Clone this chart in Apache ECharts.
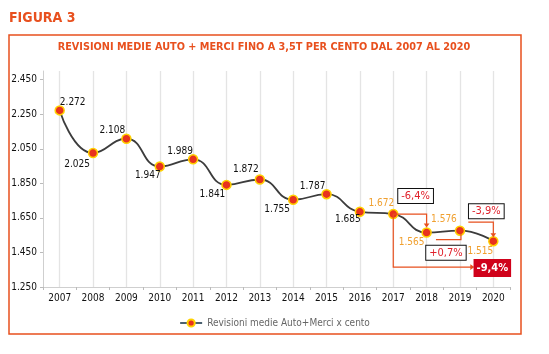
<!DOCTYPE html>
<html>
<head>
<meta charset="utf-8">
<script src="https://cdn.jsdelivr.net/npm/echarts@6/dist/echarts.min.js"></script>
<style>
  html, body { margin: 0; padding: 0; background: #fff; }
  #chart { width: 549px; height: 354px; }
</style>
</head>
<body>
<div id="chart"></div>
<script>
// data
const years = ['2007', '2008', '2009', '2010', '2011', '2012', '2013', '2014', '2015', '2016', '2017', '2018', '2019', '2020'];
const values = [2272, 2025, 2108, 1947, 1989, 1841, 1872, 1755, 1787, 1685, 1672, 1565, 1576, 1515];
const yTicks = [1250, 1450, 1650, 1850, 2050, 2250, 2450];
const changeLabels = ['-6,4%', '+0,7%', '-3,9%', '-9,4%'];
const seriesName = 'Revisioni medie Auto+Merci x cento';

const FONT = '"Liberation Sans Narrow", "DejaVu Sans Condensed", "Liberation Sans", sans-serif';
const ORANGE = '#e8501e';
const RED = '#e0202a';

// label offsets from each point (px)
const labelOffsets = [[13, -8], [-16, 11], [-14, -8], [-12, 9], [-13, -8], [-14, 10], [-14, -10],
  [-16, 10], [-14, -8], [-12, 8], [-12, -11], [-15, 10], [-16, -11], [-13, 10]];

const fmt = v => String(v).replace(/(\d)(\d{3})$/, '$1.$2');

const chart = echarts.init(document.getElementById('chart'), null, { renderer: 'canvas' });

const option = {
  animation: false,
  textStyle: { fontFamily: FONT },
  grid: { left: 43, right: 39, top: 71, bottom: 67 },
  legend: {
    bottom: 21,
    left: 'center',
    itemWidth: 22,
    itemHeight: 9,
    lineStyle: { color: '#4b6170' },
    textStyle: { fontFamily: FONT, fontSize: 10, color: '#666' },
    data: [seriesName]
  },
  xAxis: {
    type: 'category',
    data: years,
    boundaryGap: true,
    axisLine: { lineStyle: { color: '#cfcfcf' } },
    axisTick: { show: true, length: 3, lineStyle: { color: '#bbb' } },
    axisLabel: { color: '#111', fontSize: 10, fontFamily: FONT, margin: 6 },
    splitLine: { show: true, alignWithLabel: true, lineStyle: { color: '#e4e4e4', width: 1.3 } }
  },
  yAxis: {
    type: 'value',
    min: 1250,
    max: 2500,
    interval: 200,
    axisLine: { show: true, lineStyle: { color: '#cfcfcf' } },
    axisTick: { show: true, length: 3, lineStyle: { color: '#bbb' } },
    splitLine: { show: false },
    axisLabel: {
      color: '#111', fontSize: 10, fontFamily: FONT, margin: 6,
      showMaxLabel: false,
      formatter: v => yTicks.indexOf(v) >= 0 ? fmt(v) : ''
    }
  },
  series: [{
    name: seriesName,
    type: 'line',
    smooth: 0.5,
    data: values.map((v, i) => ({
      value: v,
      label: {
        show: true,
        position: 'inside',
        offset: labelOffsets[i],
        color: i >= 10 ? '#f0a030' : '#111'
      }
    })),
    symbol: 'circle',
    symbolSize: 9,
    itemStyle: { color: '#e8321e', borderColor: '#ffd200', borderWidth: 1.5 },
    lineStyle: { color: '#3c3c3c', width: 1.8 },
    label: { fontSize: 10, fontFamily: FONT, formatter: p => fmt(p.value) },
    z: 3
  }]
};

chart.setOption(option);

// annotations, placed from data coordinates
const pt = i => chart.convertToPixel({ gridIndex: 0 }, [i, values[i]]);
const p17 = pt(10), p18 = pt(11), p19 = pt(12), p20 = pt(13);

function line(points) {
  return { type: 'polyline', shape: { points }, style: { stroke: ORANGE, lineWidth: 1.2, fill: null }, z: 10 };
}
function head(tip, dir) {
  const s = 4;
  let pts;
  if (dir === 'down') pts = [[tip[0], tip[1]], [tip[0] - s / 1.4, tip[1] - s], [tip[0] + s / 1.4, tip[1] - s]];
  else pts = [[tip[0], tip[1]], [tip[0] - s, tip[1] - s / 1.4], [tip[0] - s, tip[1] + s / 1.4]];
  return { type: 'polygon', shape: { points: pts }, style: { fill: ORANGE }, z: 10 };
}
function box(text, x, y, filled) {
  return {
    type: 'text', x, y, z: 11,
    style: {
      text, align: 'center', verticalAlign: 'middle',
      font: (filled ? 'bold 11px ' : '11px ') + FONT,
      fill: filled ? '#fff' : RED,
      backgroundColor: filled ? '#d0021b' : '#fff',
      borderColor: filled ? '#d0021b' : '#111',
      borderWidth: 1,
      padding: filled ? [3, 2, 2, 2] : [2, 3, 1, 3]
    }
  };
}

const graphics = [
  // frame
  { type: 'rect', shape: { x: 9, y: 35, width: 512, height: 299 }, style: { fill: null, stroke: ORANGE, lineWidth: 1.5 }, z: 0 },
  { type: 'text', x: 9, y: 18, style: { text: 'FIGURA 3', font: 'bold 14px ' + FONT, fill: ORANGE, verticalAlign: 'middle' } },
  { type: 'text', x: 264, y: 47, style: { text: 'REVISIONI MEDIE AUTO + MERCI FINO A 3,5T PER CENTO DAL 2007 AL 2020', font: 'bold 10.8px ' + FONT, fill: ORANGE, align: 'center', verticalAlign: 'middle' } },
  // 2017 -> 2018
  line([[p17[0], p17[1]], [p18[0], p17[1]], [p18[0], p18[1] - 8]]),
  head([p18[0], p18[1] - 5], 'down'),
  // 2018 -> 2019
  line([[p19[0] - 24, p19[1] + 9], [p19[0] + 1, p19[1] + 9], [p19[0] + 1, p19[1] + 3]]),
  // 2019 -> 2020
  line([[p20[0] - 25, p20[1] - 19], [p20[0], p20[1] - 19], [p20[0], p20[1] - 7]]),
  head([p20[0], p20[1] - 4], 'down'),
  // 2017 -> 2020
  line([[p17[0], p17[1]], [p17[0], p17[1] + 53], [p20[0] - 22, p17[1] + 53]]),
  head([p20[0] - 19, p17[1] + 53], 'right'),
  box(changeLabels[0], p18[0] - 11, p17[1] - 18, false),
  box(changeLabels[1], p19[0] - 14, p19[1] + 22, false),
  box(changeLabels[2], p20[0] - 7, p20[1] - 30, false),
  box(changeLabels[3], p20[0] - 1, p17[1] + 54, true)
];

chart.setOption({ graphic: graphics });
</script>
</body>
</html>
